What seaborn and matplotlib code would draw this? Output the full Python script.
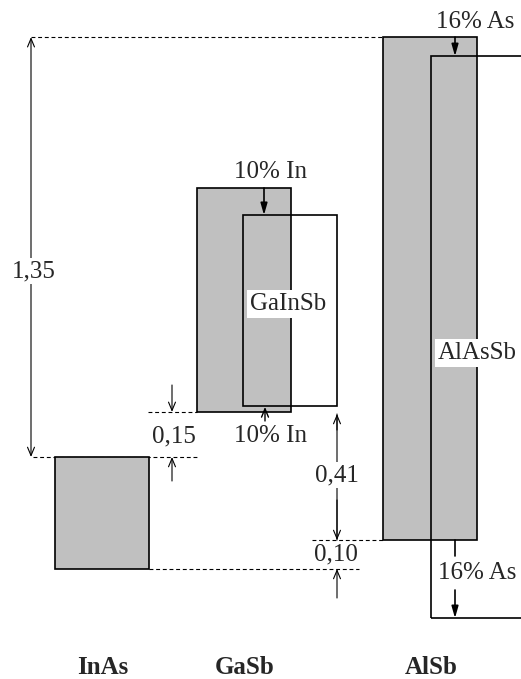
import matplotlib
matplotlib.use("Agg")
import matplotlib.pyplot as plt
import seaborn as sns
import pandas as pd

# ---- data (band edges in eV, InAs conduction band = 0) ----
materials = ["InAs", "GaSb", "GaInSb", "AlSb", "AlAsSb"]
conduction = [0.00, 0.865, 0.778, 1.35, 1.289]
valence = [-0.36, 0.145, 0.164, -0.267, -0.518]
filled = [True, True, False, True, False]
column_labels = ["InAs", "GaSb", "AlSb"]
offset_labels = ["1,35", "0,15", "0,41", "0,10"]
composition_labels = ["10% In", "16% As"]
alloy_labels = ["GaInSb", "AlAsSb"]

df = pd.DataFrame({"material": materials, "cb": conduction, "vb": valence, "filled": filled})
band = df.set_index("material")

# ---- layout ----
PX = 311.0          # pixels per eV
Y0 = 457.0          # pixel row of E = 0
def E(py):
    return (Y0 - py) / PX

box_left = {"InAs": 55, "GaSb": 197, "GaInSb": 243, "AlSb": 383, "AlAsSb": 431}
box_w = 94
GRAY = "#c0c0c0"
FS = 18

sns.set_theme(style="white")
plt.rcParams["font.family"] = ["Liberation Serif", "DejaVu Serif"]

fig = plt.figure(figsize=(5.21, 6.79), dpi=100)
ax = fig.add_axes([0, 0, 1, 1])
ax.set_xlim(0, 521)
ax.set_ylim(E(679), E(0))
ax.axis("off")

# boxes
for m, row in band.iterrows():
    ax.bar(box_left[m], row.cb - row.vb, bottom=row.vb, width=box_w, align="edge",
           color=GRAY if row.filled else "none", edgecolor="black", linewidth=1.2,
           zorder=3 if row.filled else 4)

dash = dict(color="black", lw=0.8, ls=(0, (3.5, 2.5)), zorder=1)
ax.plot([31, box_left["AlSb"]], [band.loc["AlSb", "cb"]] * 2, **dash)
ax.plot([33, box_left["GaSb"]], [band.loc["InAs", "cb"]] * 2, **dash)
ax.plot([148, box_left["GaSb"]], [band.loc["GaSb", "vb"]] * 2, **dash)
ax.plot([312, box_left["AlSb"]], [band.loc["AlSb", "vb"]] * 2, **dash)
ax.plot([149, 359], [band.loc["InAs", "vb"]] * 2, **dash)

def arrow(x, y_from, y_to, style="->", ms=10, lw=0.8, z=5):
    ax.annotate("", xy=(x, y_to), xytext=(x, y_from),
                arrowprops=dict(arrowstyle=style, lw=lw, color="black",
                                shrinkA=0, shrinkB=0, mutation_scale=ms),
                zorder=z)

open_both = "<->,head_length=0.6,head_width=0.25"
open_one = "->,head_length=0.6,head_width=0.25"
solid = "-|>,head_length=0.7,head_width=0.2"

white = dict(facecolor="white", edgecolor="none", pad=1.5)

# 1,35
arrow(31, band.loc["InAs", "cb"], band.loc["AlSb", "cb"], open_both, ms=10)
ax.text(34, E(271), offset_labels[0], fontsize=FS, ha="center", va="center", bbox=white, zorder=6)

# 0,15
arrow(172, E(385), band.loc["GaSb", "vb"], open_one)
arrow(172, E(481), band.loc["InAs", "cb"], open_one)
ax.text(174, E(436), offset_labels[1], fontsize=FS, ha="center", va="center")

# 0,41
arrow(337, E(414), band.loc["AlSb", "vb"], "-")
arrow(337, E(430), E(414), open_one)
arrow(337, E(500), band.loc["AlSb", "vb"], open_one)
ax.text(337, E(475), offset_labels[2], fontsize=FS, ha="center", va="center", bbox=white, zorder=6)

# 0,10
arrow(337, E(598), band.loc["InAs", "vb"], open_one)
ax.text(336, E(554), offset_labels[3], fontsize=FS, ha="center", va="center")

# 10% In
arrow(264, band.loc["GaSb", "cb"], band.loc["GaInSb", "cb"], solid, ms=10, lw=1.2, z=6)
ax.text(270, E(172), composition_labels[0], fontsize=FS, ha="center", va="center")
arrow(265, E(421), E(407), open_one, lw=1.0, z=6)
ax.text(270, E(436), composition_labels[0], fontsize=FS, ha="center", va="center")

# 16% As
arrow(455, band.loc["AlSb", "cb"], band.loc["AlAsSb", "cb"], solid, ms=10, lw=1.2, z=6)
ax.text(475, E(22), composition_labels[1], fontsize=FS, ha="center", va="center")
arrow(455, band.loc["AlSb", "vb"], E(556), "-", lw=1.2, z=6)
arrow(455, E(590), band.loc["AlAsSb", "vb"], solid, ms=10, lw=1.2, z=6)
ax.text(477, E(573), composition_labels[1], fontsize=FS, ha="center", va="center")

# alloy labels
ax.text(288, E(304), alloy_labels[0], fontsize=FS, ha="center", va="center",
        bbox=dict(facecolor="white", edgecolor="none", pad=2), zorder=7)
ax.text(477, E(353), alloy_labels[1], fontsize=FS, ha="center", va="center",
        bbox=dict(facecolor="white", edgecolor="none", pad=2), zorder=7)

# column labels
for lab, x in zip(column_labels, [103, 245, 431]):
    ax.text(x, E(668), lab, fontsize=FS, fontweight="bold", ha="center", va="center")

fig.savefig("out.png", dpi=100)
